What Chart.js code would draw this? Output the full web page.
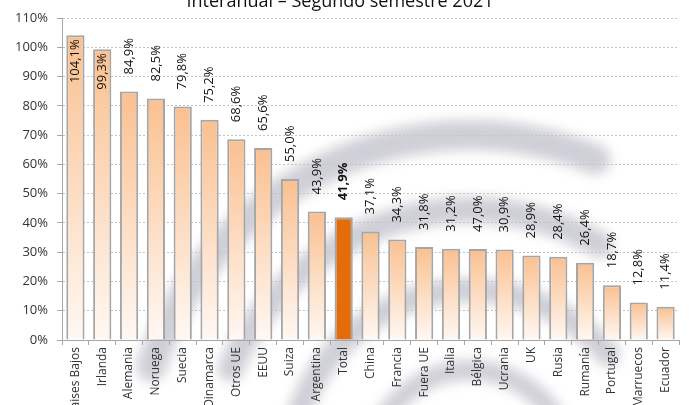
<!DOCTYPE html>
<html lang="es">
<head>
    <meta charset="UTF-8">
    <title>Interanual - Segundo semestre 2021</title>
    <script src="https://cdn.jsdelivr.net/npm/chart.js"></script>
    <style>
        html, body {
            margin: 0;
            padding: 0;
            background: #fff;
            overflow: hidden;
        }
        #marco {
            width: 694px;
            height: 420px;
        }
    </style>
</head>
<body>

<div id="marco">
    <canvas id="grafico" width="694" height="420"></canvas>
</div>

<script>
    // Datos
    const titulo = 'Interanual – Segundo semestre 2021';
    const categorias = ['Paises Bajos', 'Irlanda', 'Alemania', 'Noruega', 'Suecia', 'Dinamarca', 'Otros UE', 'EEUU',
        'Suiza', 'Argentina', 'Total', 'China', 'Francia', 'Fuera UE', 'Italia', 'Bélgica', 'Ucrania', 'UK',
        'Rusia', 'Rumanía', 'Portugal', 'Marruecos', 'Ecuador'];
    const valores = [104.1, 99.3, 84.9, 82.5, 79.8, 75.2, 68.6, 65.6, 55.0, 43.9, 41.9, 37.1, 34.3, 31.8, 31.2,
        31.1, 30.9, 28.9, 28.4, 26.4, 18.7, 12.8, 11.4];
    // texto de las etiquetas tal como aparece (Bélgica dice 47,0% aunque la barra mide ~31%)
    const etiquetas = ['104,1%', '99,3%', '84,9%', '82,5%', '79,8%', '75,2%', '68,6%', '65,6%', '55,0%', '43,9%',
        '41,9%', '37,1%', '34,3%', '31,8%', '31,2%', '47,0%', '30,9%', '28,9%', '28,4%', '26,4%', '18,7%',
        '12,8%', '11,4%'];
    const destacado = 'Total';
    const ejeMin = 0, ejeMax = 110, ejePaso = 10;

    const fuente = '"Open Sans", "Liberation Sans", sans-serif';

    // Degradado naranja -> blanco en cada barra
    function colorBarra(context) {
        const i = context.dataIndex;
        if (categorias[i] === destacado) return '#E46C0A';
        const chart = context.chart;
        if (!chart.chartArea) return '#FAC090';
        const y = chart.scales.y;
        const g = chart.ctx.createLinearGradient(0, y.getPixelForValue(valores[i]), 0, y.getPixelForValue(0));
        g.addColorStop(0, '#FAC090');
        g.addColorStop(1, '#FFF8F3');
        return g;
    }

    // Marca de agua gris del fondo (aprox.)
    const fondo = {
        id: 'fondo',
        beforeDraw(chart) {
            const ctx = chart.ctx;
            ctx.save();
            ctx.fillStyle = '#fff';
            ctx.fillRect(0, 0, chart.width, chart.height);
            ctx.filter = 'blur(6px)';
            ctx.strokeStyle = 'rgba(160, 160, 175, 0.5)';
            ctx.lineCap = 'round';
            const arcos = [
                [470, 470, 335, 198, 292, 30],
                [470, 470, 260, 203, 300, 26],
                [470, 470, 180, 195, 320, 24],
                [470, 470, 100, 190, 340, 20]
            ];
            arcos.forEach(([cx, cy, r, a0, a1, w]) => {
                ctx.lineWidth = w;
                ctx.beginPath();
                ctx.arc(cx, cy, r, a0 * Math.PI / 180, a1 * Math.PI / 180);
                ctx.stroke();
            });
            ctx.restore();
        }
    };

    // Etiquetas de valor giradas sobre cada barra
    const etiquetasBarras = {
        id: 'etiquetasBarras',
        afterDatasetsDraw(chart) {
            const ctx = chart.ctx;
            const meta = chart.getDatasetMeta(0);
            meta.data.forEach((barra, i) => {
                const negrita = categorias[i] === destacado;
                ctx.save();
                ctx.font = (negrita ? 'bold ' : '') + '13px ' + fuente;
                const texto = etiquetas[i];
                const ancho = ctx.measureText(texto).width;
                let base = barra.y - 17;
                if (base - ancho < 2) base = barra.y + 4 + ancho;  // no cabe: dentro de la barra
                ctx.translate(barra.x, base);
                ctx.rotate(-Math.PI / 2);
                ctx.textAlign = 'left';
                ctx.textBaseline = 'middle';
                ctx.fillStyle = '#111';
                ctx.fillText(texto, 0, 0);
                ctx.restore();
            });
        }
    };

    // Título (queda cortado arriba como en el original)
    const tituloArriba = {
        id: 'tituloArriba',
        afterDraw(chart) {
            const ctx = chart.ctx;
            ctx.save();
            ctx.font = '18px ' + fuente;
            ctx.fillStyle = '#111';
            ctx.textAlign = 'center';
            ctx.textBaseline = 'alphabetic';
            ctx.fillText(titulo, 340, 7);
            ctx.restore();
        }
    };

    new Chart(document.getElementById('grafico'), {
        type: 'bar',
        data: {
            labels: categorias,
            datasets: [{
                data: valores,
                backgroundColor: colorBarra,
                borderColor: '#A6A6A6',
                borderWidth: 2,
                borderSkipped: 'bottom',
                barPercentage: 0.68,
                categoryPercentage: 1
            }]
        },
        options: {
            responsive: false,
            animation: false,
            layout: {
                padding: { top: 18, right: 15, bottom: 0, left: 0 }
            },
            plugins: {
                legend: { display: false },
                tooltip: { enabled: false }
            },
            scales: {
                x: {
                    grid: {
                        display: true,
                        drawOnChartArea: false,
                        drawTicks: true,
                        tickLength: 5,
                        tickColor: '#A6A6A6'
                    },
                    border: { color: '#A6A6A6', width: 1 },
                    ticks: {
                        autoSkip: false,
                        minRotation: 90,
                        maxRotation: 90,
                        padding: 2,
                        color: '#333',
                        font: { family: fuente, size: 12 }
                    },
                    afterFit(scale) {
                        scale.height = 80;
                    }
                },
                y: {
                    min: ejeMin,
                    max: ejeMax,
                    grid: {
                        color: '#C4C4C4',
                        lineWidth: 1,
                        tickLength: 5,
                        tickColor: '#A6A6A6',
                        tickBorderDash: []
                    },
                    border: { color: '#A6A6A6', width: 1, dash: [2, 2] },
                    ticks: {
                        stepSize: ejePaso,
                        padding: 9,
                        color: '#333',
                        font: { family: fuente, size: 13 },
                        callback: v => v + '%'
                    },
                    afterFit(scale) {
                        scale.width = 62;
                    }
                }
            }
        },
        plugins: [fondo, etiquetasBarras, tituloArriba]
    });
</script>

</body>
</html>
